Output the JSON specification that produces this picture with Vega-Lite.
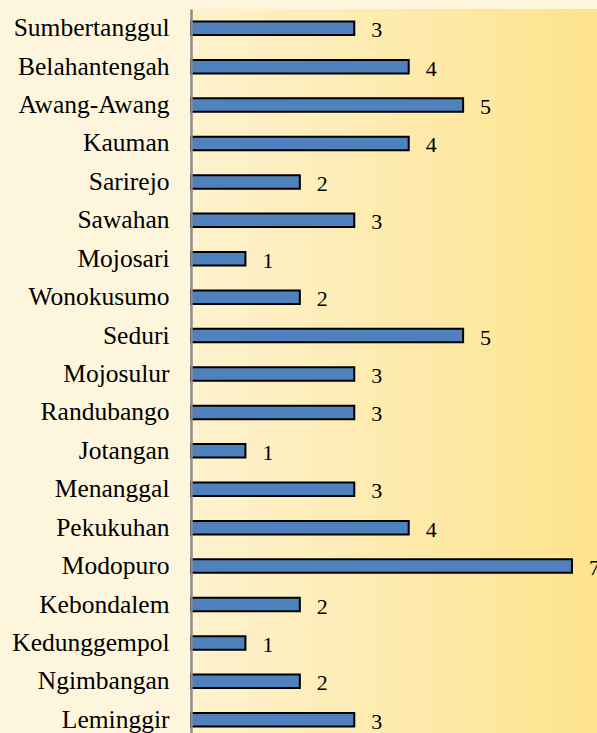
{
  "$schema": "https://vega.github.io/schema/vega-lite/v6.json",
  "autosize": {"type": "none"},
  "padding": {"left": 191, "top": 9, "right": 0, "bottom": 0},
  "width": 406,
  "height": 730,
  "background": "#FEF6DC",
  "config": {
    "view": {
      "stroke": null,
      "fill": {"gradient": "linear", "x1": 0, "y1": 0, "x2": 1, "y2": 0, "stops": [{"offset": 0, "color": "#FEF2CF"}, {"offset": 1, "color": "#FDE38D"}]}
    },
    "font": "Liberation Serif"
  },
  "data": {
    "values": [
      {"desa": "Sumbertanggul", "jumlah": 3},
      {"desa": "Belahantengah", "jumlah": 4},
      {"desa": "Awang-Awang", "jumlah": 5},
      {"desa": "Kauman", "jumlah": 4},
      {"desa": "Sarirejo", "jumlah": 2},
      {"desa": "Sawahan", "jumlah": 3},
      {"desa": "Mojosari", "jumlah": 1},
      {"desa": "Wonokusumo", "jumlah": 2},
      {"desa": "Seduri", "jumlah": 5},
      {"desa": "Mojosulur", "jumlah": 3},
      {"desa": "Randubango", "jumlah": 3},
      {"desa": "Jotangan", "jumlah": 1},
      {"desa": "Menanggal", "jumlah": 3},
      {"desa": "Pekukuhan", "jumlah": 4},
      {"desa": "Modopuro", "jumlah": 7},
      {"desa": "Kebondalem", "jumlah": 2},
      {"desa": "Kedunggempol", "jumlah": 1},
      {"desa": "Ngimbangan", "jumlah": 2},
      {"desa": "Leminggir", "jumlah": 3}
    ]
  },
  "encoding": {
    "y": {
      "field": "desa", "type": "nominal", "sort": null,
      "scale": {"paddingInner": 0, "paddingOuter": 0},
      "axis": {"title": null, "ticks": false, "labelPadding": 22, "labelFontSize": 25.5, "labelColor": "#000000", "labelFont": "Liberation Serif", "domainColor": "#8C8C8C", "domainWidth": 2.5, "zindex": 1}
    },
    "x": {
      "field": "jumlah", "type": "quantitative",
      "scale": {"domain": [0, 7.46], "nice": false},
      "axis": null
    }
  },
  "layer": [
    {
      "mark": {"type": "bar", "size": 13.5, "color": "#4F81BD", "stroke": "#000000", "strokeWidth": 2}
    },
    {
      "mark": {"type": "text", "align": "left", "baseline": "middle", "dx": 17, "dy": 2, "fontSize": 22, "font": "Liberation Serif", "color": "#000000"},
      "encoding": {"text": {"field": "jumlah", "type": "quantitative"}}
    }
  ]
}
